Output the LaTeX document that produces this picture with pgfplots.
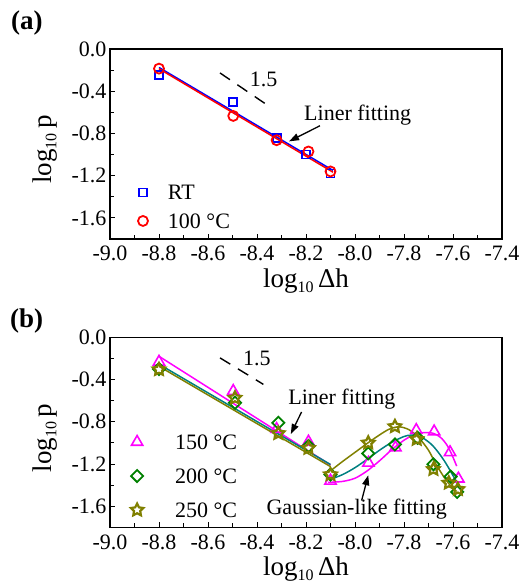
\documentclass[border=0pt]{standalone}
\usepackage{pgfplots}
\pgfplotsset{compat=1.18}
\usepackage{fontspec}
\setmainfont{Liberation Serif}
\usetikzlibrary{arrows.meta}

\definecolor{mymag}{RGB}{255,0,255}
\definecolor{mygreen}{RGB}{0,128,0}
\definecolor{myteal}{RGB}{0,128,128}
\definecolor{myolive}{RGB}{128,128,0}
\definecolor{myblue}{RGB}{0,0,255}
\definecolor{myred}{RGB}{255,0,0}

\newcommand{\fs}[1]{\fontsize{#1}{#1}\selectfont}

\pgfdeclareplotmark{ostar}{%
 \pgfpathmoveto{\pgfpointpolar{90}{\pgfplotmarksize}}%
 \pgfpathlineto{\pgfpointpolar{126}{0.5\pgfplotmarksize}}%
 \pgfpathlineto{\pgfpointpolar{162}{\pgfplotmarksize}}%
 \pgfpathlineto{\pgfpointpolar{198}{0.5\pgfplotmarksize}}%
 \pgfpathlineto{\pgfpointpolar{234}{\pgfplotmarksize}}%
 \pgfpathlineto{\pgfpointpolar{270}{0.5\pgfplotmarksize}}%
 \pgfpathlineto{\pgfpointpolar{306}{\pgfplotmarksize}}%
 \pgfpathlineto{\pgfpointpolar{342}{0.5\pgfplotmarksize}}%
 \pgfpathlineto{\pgfpointpolar{18}{\pgfplotmarksize}}%
 \pgfpathlineto{\pgfpointpolar{54}{0.5\pgfplotmarksize}}%
 \pgfpathclose
 \pgfusepathqstroke}

\tikzset{
 annot/.style={font=\fs{22bp}, inner sep=0pt},
 arr/.style={black, line width=1.3bp, -{Triangle[length=10bp,width=7bp]}},
 dsh/.style={black, line width=1.4bp, dash pattern=on 12bp off 9bp},
}

\pgfplotsset{
 panel/.style={
  scale only axis, width=392bp, height=190bp,
  xmin=-9, xmax=-7.4, ymin=-1.8, ymax=0,
  xtick={-9,-8.8,-8.6,-8.4,-8.2,-8,-7.8,-7.6,-7.4},
  xticklabels={-9.0,-8.8,-8.6,-8.4,-8.2,-8.0,-7.8,-7.6,-7.4},
  ytick={0,-0.4,-0.8,-1.2,-1.6},
  yticklabels={0.0,-0.4,-0.8,-1.2,-1.6},
  minor x tick num=1, minor y tick num=1,
  tick align=inside, xtick pos=bottom, ytick pos=left,
  major tick length=5bp, minor tick length=4bp,
  tick style={black, line width=0.9bp},
  axis line style={black, line width=1.1bp},
  xticklabel style={font=\fs{22bp}, anchor=base, yshift=-22bp},
  yticklabel style={font=\fs{22bp}},
  xlabel={log\raisebox{-5bp}{\fs{16bp}10}\,Δh},
  ylabel={log\raisebox{-5bp}{\fs{16bp}10}\,p},
  xlabel style={font=\fs{27bp}, at={(axis description cs:0.5,-0.256)}, anchor=base},
  ylabel style={font=\fs{27bp}, at={(axis description cs:-0.166,0.47)}, anchor=center},
  legend cell align=left,
  clip=false,
 },
 mk/.style={only marks, legend image code/.code={%
     \path[draw=none] (0bp,0bp) -- (#1,0bp);
     \draw[##1, only marks] plot coordinates {(8bp,0bp)};}},
}

\begin{document}
\begin{tikzpicture}
\useasboundingbox (0,0) rectangle (525bp,588bp);
\node[anchor=west, inner sep=0pt, font=\fs{27bp}\bfseries] at (11bp,564.7bp) {(a)};
\node[anchor=west, inner sep=0pt, font=\fs{27bp}\bfseries] at (10bp,267bp) {(b)};

% ---------------- panel (a) ----------------
\begin{axis}[panel, at={(110bp,349bp)}, anchor=south west,
  legend style={draw=none, fill=none, inner sep=0pt, outer sep=0pt,
    at={(axis cs:-8.898,-1.224)}, anchor=north west,
    nodes={font=\fs{22bp}, text height=14.5bp, text depth=0bp, inner xsep=0bp, inner ysep=7bp}},
]
\addplot[mk=33bp, mark=square, mark size=4bp, draw=myblue, line width=1.8bp]
 coordinates {(-8.8,-0.243) (-8.497,-0.505) (-8.32,-0.845) (-8.2,-1.0) (-8.1,-1.18)};
\addlegendentry{RT}
\addplot[mk=33bp, mark=o, mark size=5bp, draw=myred, line width=1.8bp]
 coordinates {(-8.8,-0.186) (-8.497,-0.634) (-8.32,-0.864) (-8.19,-0.971) (-8.1,-1.16)};
\addlegendentry{100 °C}
\addplot[forget plot, myblue, line width=1.5bp] coordinates {(-8.8,-0.175) (-8.09,-1.15)};
\addplot[forget plot, myred, line width=1.5bp] coordinates {(-8.8,-0.187) (-8.09,-1.167)};
\draw[dsh] (axis cs:-8.551,-0.227) -- (axis cs:-8.367,-0.517);
\node[annot] at (axis cs:-8.373,-0.286) {1.5};
\node[annot, anchor=base] at (axis cs:-7.989,-0.676) {Liner fitting};
\draw[arr] (axis cs:-8.143,-0.727) -- (axis cs:-8.269,-0.875);
\end{axis}

% ---------------- panel (b) ----------------
\begin{axis}[panel, at={(110bp,60.7bp)}, anchor=south west,
  legend style={draw=none, fill=none, inner sep=0pt, outer sep=0pt,
    at={(axis cs:-8.922,-0.831)}, anchor=north west,
    nodes={font=\fs{22bp}, text height=14.5bp, text depth=0bp, inner xsep=0bp, inner ysep=9.75bp}},
]
% linear fits
\addplot[forget plot, mymag, line width=1.5bp] coordinates {(-8.8,-0.18) (-8.1,-1.21)};
\addplot[forget plot, myteal, line width=1.5bp] coordinates {(-8.8,-0.255) (-8.1,-1.205)};
\addplot[forget plot, myolive, line width=1.5bp] coordinates {(-8.8,-0.275) (-8.1,-1.225)};
% gaussian-like fits
\addplot[forget plot, mymag, line width=1.5bp, smooth] coordinates {
 (-8.11,-1.375) (-8.05,-1.365) (-8.0,-1.335) (-7.95,-1.265) (-7.90,-1.17) (-7.85,-1.065)
 (-7.80,-0.975) (-7.76,-0.925) (-7.72,-0.903) (-7.68,-0.91) (-7.65,-0.95) (-7.625,-1.02)
 (-7.605,-1.11) (-7.585,-1.22)};
\addplot[forget plot, myteal, line width=1.5bp, smooth] coordinates {
 (-8.10,-1.345) (-8.05,-1.30) (-8.0,-1.235) (-7.95,-1.155) (-7.90,-1.07) (-7.85,-0.995)
 (-7.80,-0.94) (-7.77,-0.927) (-7.73,-0.945) (-7.69,-1.01) (-7.66,-1.09) (-7.63,-1.19)
 (-7.60,-1.31) (-7.575,-1.41)};
\addplot[forget plot, myolive, line width=1.5bp, smooth] coordinates {
 (-8.10,-1.265) (-8.05,-1.175) (-8.0,-1.09) (-7.95,-1.005) (-7.90,-0.925) (-7.86,-0.87)
 (-7.82,-0.848) (-7.78,-0.875) (-7.74,-0.95) (-7.70,-1.07) (-7.67,-1.2) (-7.635,-1.33)
 (-7.605,-1.42) (-7.585,-1.46)};
% data
\addplot[mk=46bp, mark=triangle, mark size=6.5bp, draw=mymag, line width=1.6bp]
 coordinates {(-8.8,-0.233) (-8.497,-0.51) (-8.32,-0.87) (-8.19,-0.99) (-8.1,-1.36)
 (-7.945,-1.19) (-7.835,-1.045) (-7.75,-0.88) (-7.677,-0.893) (-7.612,-1.09) (-7.578,-1.34)};
\addlegendentry{150 °C}
\addplot[mk=46bp, mark=square, mark size=4.3bp, mark options={rotate=45}, draw=mygreen, line width=1.8bp]
 coordinates {(-8.8,-0.30) (-8.49,-0.62) (-8.313,-0.81) (-8.19,-1.03) (-8.1,-1.30)
 (-7.946,-1.10) (-7.837,-1.015) (-7.745,-0.952) (-7.68,-1.203) (-7.61,-1.32) (-7.583,-1.465)};
\addlegendentry{200 °C}
\addplot[mk=46bp, mark=ostar, mark size=6.5bp, draw=myolive, line width=2.2bp, line join=miter]
 coordinates {(-8.8,-0.305) (-8.49,-0.575) (-8.313,-0.91) (-8.19,-1.05) (-8.1,-1.30)
 (-7.946,-1.0) (-7.837,-0.845) (-7.748,-0.965) (-7.68,-1.25) (-7.617,-1.38) (-7.58,-1.44)};
\addlegendentry{250 °C}
\draw[dsh] (axis cs:-8.551,-0.195) -- (axis cs:-8.374,-0.446);
\node[annot] at (axis cs:-8.401,-0.204) {1.5};
\node[annot, anchor=base] at (axis cs:-8.054,-0.638) {Liner fitting};
\draw[arr] (axis cs:-8.218,-0.707) -- (axis cs:-8.262,-0.916);
\node[annot, anchor=base] at (axis cs:-7.993,-1.674) {Gaussian-like fitting};
\draw[arr] (axis cs:-7.973,-1.547) -- (axis cs:-7.946,-1.307);
\end{axis}
\end{tikzpicture}
\end{document}
